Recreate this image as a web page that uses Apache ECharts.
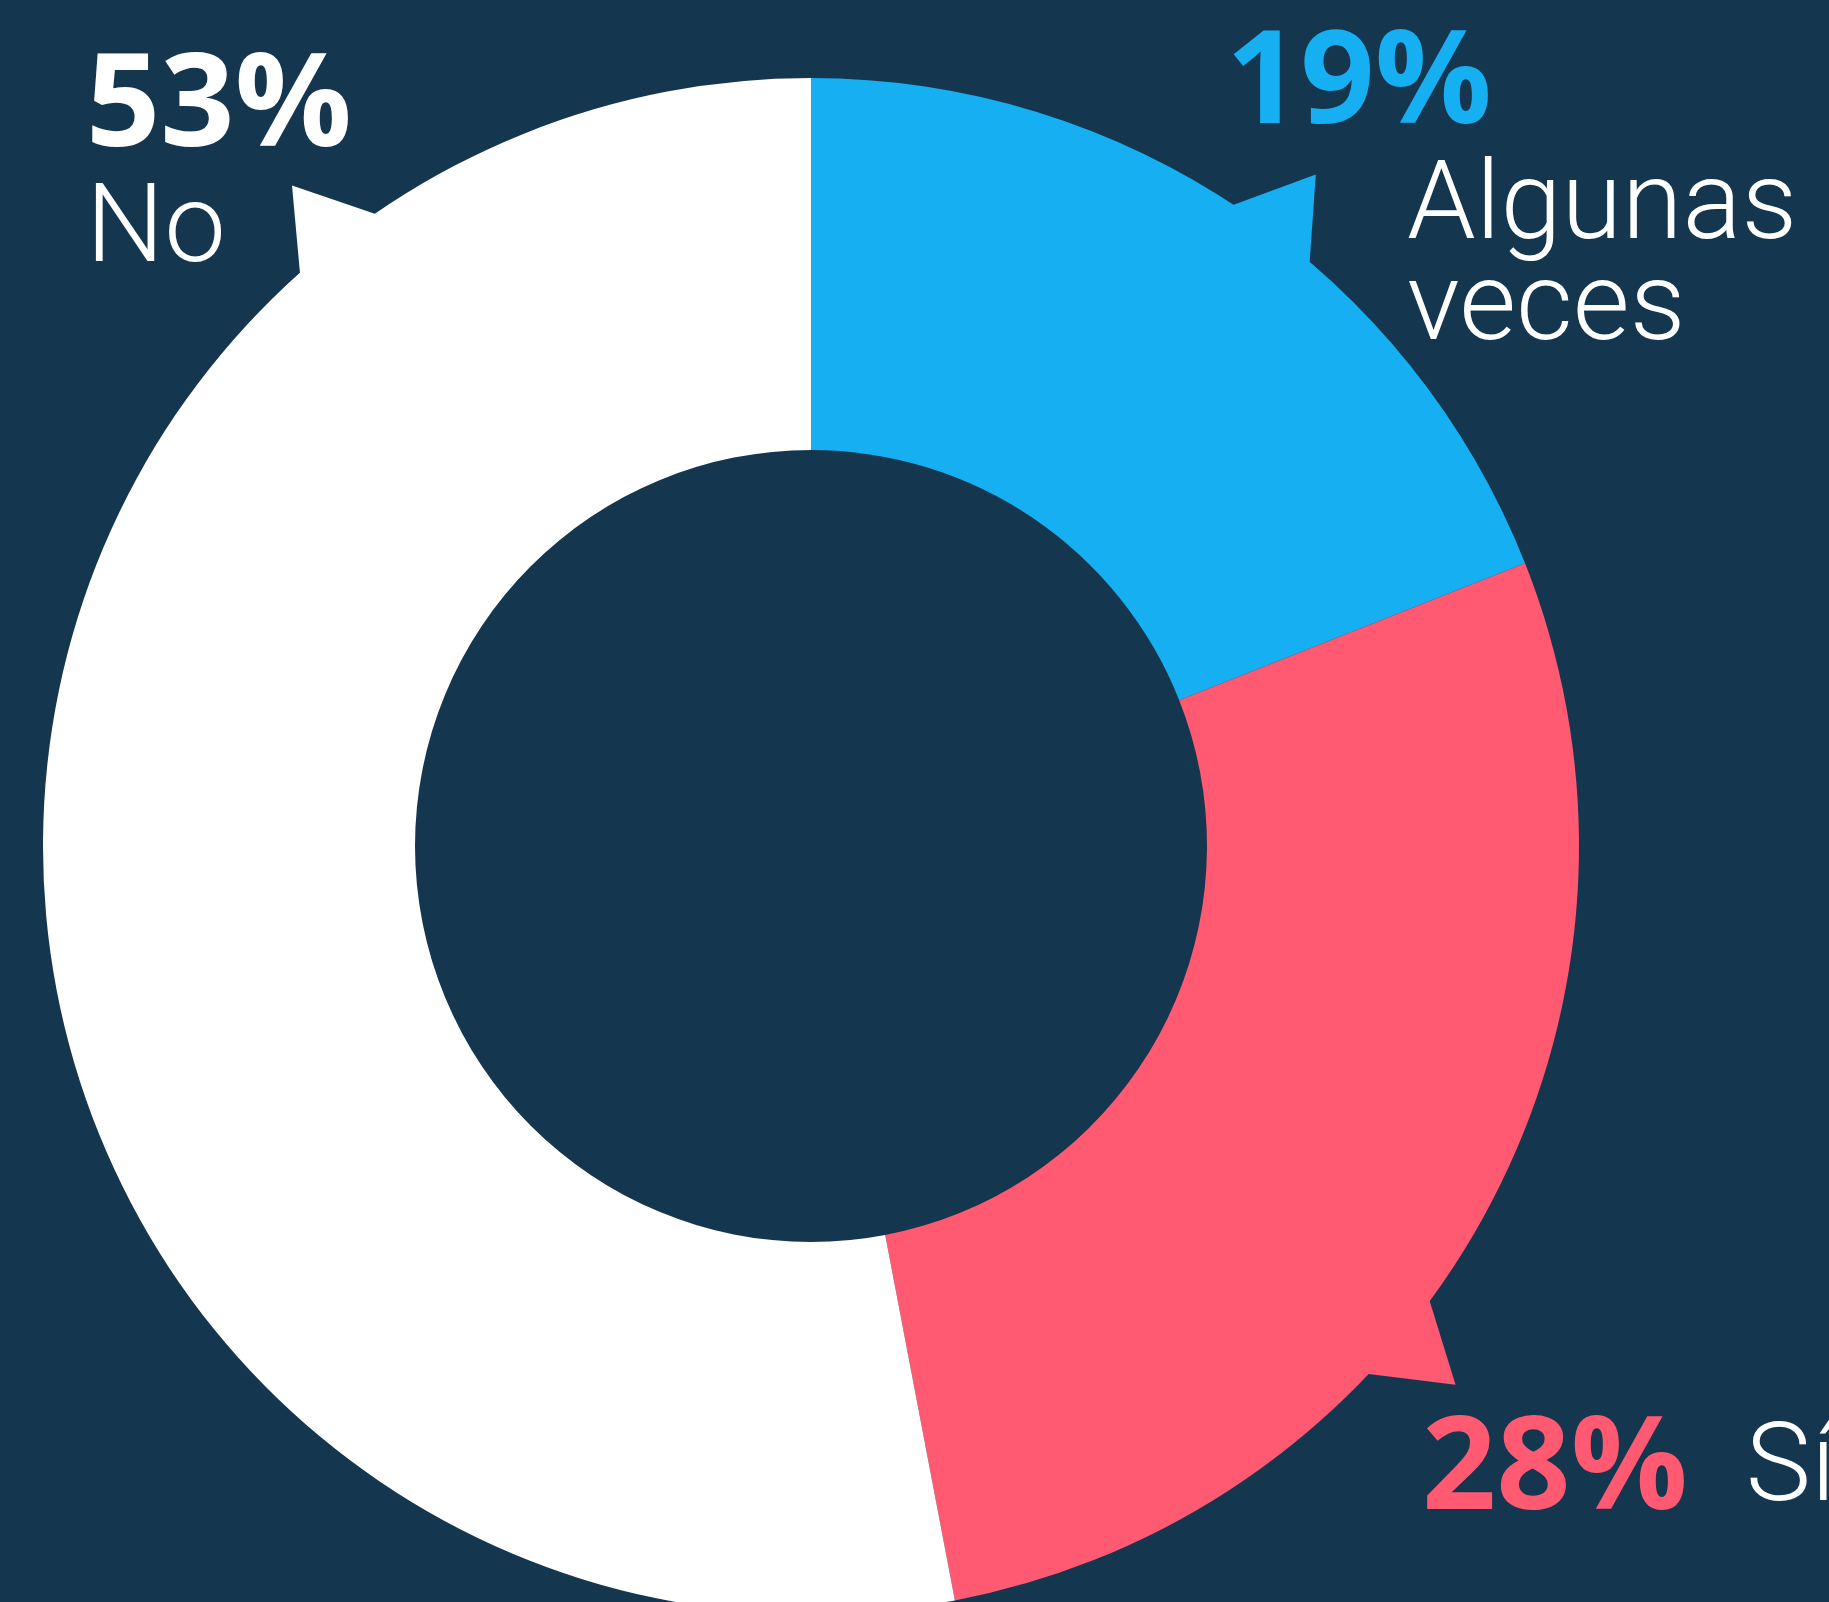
<!DOCTYPE html>
<html>
<head>
<meta charset="utf-8">
<title>Encuesta</title>
<script src="https://cdn.jsdelivr.net/npm/echarts@6/dist/echarts.min.js"></script>
<style>
  html, body { margin: 0; padding: 0; background: #15364f; }
  #main { width: 1829px; height: 1602px; }
</style>
</head>
<body>
<div id="main"></div>
<script>
// answers, clockwise from 12 o'clock
const answers = ['Algunas veces', 'Sí', 'No'];
const shares = [19, 28, 53];
const percentTexts = ['19%', '28%', '53%'];
const nameLines = [['Algunas', 'veces'], ['Sí'], ['No']];

const colors = ['#15aff2', '#ff5a72', '#ffffff'];
const bg = '#15364f';

// where each label box sits (top-left corner)
const labelSpots = [[1226, 15], [1422, 1408], [86, 38]];
// where the little speech tail sits inside each slice (0..1 of the arc)
const tailAt = [0.54, 0.61, 0.80];
const tailHalf = 4;   // degrees
const tailLen = 72;   // px past the outer edge

const chartDom = document.getElementById('main');
const myChart = echarts.init(chartDom, null, { renderer: 'canvas' });

function labelText(i) {
  const p = percentTexts[i];
  if (i === 0) return '{pb|' + p + '}\n{n1|' + nameLines[i][0] + '}\n{n2|' + nameLines[i][1] + '}';
  if (i === 1) return '{pr|' + p + '}{gap|}{n|' + nameLines[i][0] + '}';
  return '{pw|' + p + '}\n{n|' + nameLines[i][0] + '}';
}

const pctFont = { fontFamily: 'Open Sans', fontWeight: 700, fontSize: 130, lineHeight: 141 };
const nameFont = { fontFamily: 'Roboto', fontWeight: 300, fontSize: 110, lineHeight: 108, color: '#ffffff' };

const option = {
  backgroundColor: bg,
  animation: false,
  series: [
    {
      type: 'pie',
      center: [811, 846],
      radius: [396, 768],
      startAngle: 90,
      clockwise: true,
      avoidLabelOverlap: false,
      itemStyle: { borderWidth: 0 },
      label: {
        show: true,
        position: 'outside',
        formatter: (params) => labelText(params.dataIndex),
        rich: {
          pb: Object.assign({}, pctFont, { color: colors[0] }),
          pr: Object.assign({}, pctFont, { color: colors[1], lineHeight: 128 }),
          pw: Object.assign({}, pctFont, { color: colors[2] }),
          n: nameFont,
          n1: Object.assign({}, nameFont, { padding: [0, 0, 0, 181] }),
          n2: Object.assign({}, nameFont, { lineHeight: 94, padding: [0, 0, 0, 181] }),
          gap: { width: 58 }
        }
      },
      labelLine: { show: false },
      labelLayout: (params) => ({
        x: labelSpots[params.dataIndex][0],
        y: labelSpots[params.dataIndex][1],
        align: 'left',
        verticalAlign: 'top'
      }),
      emphasis: { disabled: true },
      data: answers.map((name, i) => ({
        name: name,
        value: shares[i],
        itemStyle: { color: colors[i] }
      }))
    }
  ]
};

myChart.setOption(option);

// speech-bubble tails, placed from the pie's own slice layout
const pieData = myChart.getModel().getSeriesByIndex(0).getData();
const tails = answers.map((name, i) => {
  const lay = pieData.getItemLayout(i);
  const a = lay.startAngle + (lay.endAngle - lay.startAngle) * tailAt[i];
  const h = tailHalf * Math.PI / 180;
  const pt = (ang, r) => [lay.cx + r * Math.cos(ang), lay.cy + r * Math.sin(ang)];
  return {
    type: 'polygon',
    silent: true,
    z: 0,
    shape: { points: [pt(a - h, lay.r - 8), pt(a, lay.r + tailLen), pt(a + h, lay.r - 8)] },
    style: { fill: colors[i] }
  };
});
myChart.setOption({ graphic: tails });
</script>
</body>
</html>
